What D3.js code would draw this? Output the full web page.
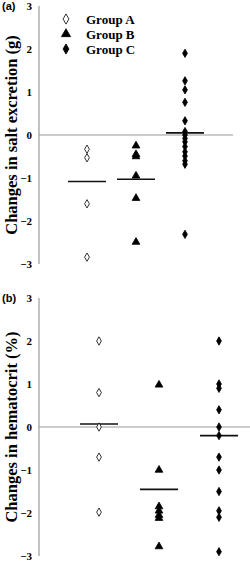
<!DOCTYPE html>
<html>
<head>
<meta charset="utf-8">
<script src="https://cdn.jsdelivr.net/npm/d3@7"></script>
<style>
  body { margin: 0; background: #fff; }
  svg text { font-family: "Liberation Serif", "Times New Roman", serif; font-weight: bold; }
</style>
</head>
<body>
<div id="chart"></div>
<script>
var groups = ['Group A', 'Group B', 'Group C'];
var yTicks = [3, 2, 1, 0, -1, -2, -3];

// panel (a) salt excretion, g
var saltA = [-0.33, -0.53, -1.6, -2.84];
var saltB = [-0.25, -0.45, -0.5, -0.95, -1.47, -2.49];
var saltC = [1.9, 1.26, 1.05, 0.76, 0.33, 0.08, 0, -0.08, -0.16, -0.27, -0.39, -0.49, -0.6, -0.68, -2.31];
var saltMeans = [-1.08, -1.03, 0.05];

// panel (b) hematocrit, %
var hctA = [2.0, 0.8, 0, -0.7, -1.98];
var hctB = [0.98, -1.0, -1.85, -1.95, -2.05, -2.12, -2.78];
var hctC = [2.0, 1.0, 0.9, 0.4, 0, -0.2, -0.7, -1.0, -1.5, -1.95, -2.1, -2.9];
var hctMeans = [0.07, -1.45, -0.2];

var width = 250, height = 562;
var svg = d3.select('#chart').append('svg').attr('width', width).attr('height', height);

var symbolFor = {
  'Group A': { type: d3.symbolDiamond, size: 20, fill: '#fff' },
  'Group B': { type: d3.symbolTriangle, size: 26, fill: '#000' },
  'Group C': { type: d3.symbolDiamond, size: 20, fill: '#000' }
};

function panel(opts) {
  var y = d3.scaleLinear().domain([-3, 3]).range([opts.bottom, opts.top]);
  var x = d3.scalePoint().domain(groups).range(opts.xRange);
  var g = svg.append('g');

  // y axis line
  g.append('line')
    .attr('x1', 39).attr('x2', 39)
    .attr('y1', y(3)).attr('y2', y(-3))
    .attr('stroke', '#9a9a9a').attr('stroke-width', 1.2);
  // zero line
  g.append('line')
    .attr('x1', 39).attr('x2', opts.zeroEnd)
    .attr('y1', y(0)).attr('y2', y(0))
    .attr('stroke', '#9a9a9a').attr('stroke-width', 1.2);

  g.selectAll('.tick').data(yTicks).enter().append('text')
    .attr('x', 32).attr('y', function(d) { return y(d) + 4; })
    .attr('text-anchor', 'end').attr('font-size', 11)
    .text(function(d) { return d < 0 ? '\u2212' + Math.abs(d) : d; });

  g.append('text')
    .attr('transform', 'translate(' + 17 + ',' + y(0) + ') rotate(-90)')
    .attr('text-anchor', 'middle').attr('font-size', 16.5)
    .text(opts.label);

  g.append('text')
    .attr('x', 2).attr('y', y(3) + 4)
    .style('font-family', 'Liberation Sans, Arial, sans-serif')
    .attr('font-size', 11)
    .text(opts.tag);

  // mean lines
  g.selectAll('.mean').data(opts.means).enter().append('line')
    .attr('x1', function(d, i) { return x(groups[i]) - 19; })
    .attr('x2', function(d, i) { return x(groups[i]) + 19; })
    .attr('y1', function(d) { return y(d); })
    .attr('y2', function(d) { return y(d); })
    .attr('stroke', '#111').attr('stroke-width', 1.6);

  opts.series.forEach(function(vals, i) {
    var s = symbolFor[groups[i]];
    g.selectAll('.pt' + i).data(vals).enter().append('path')
      .attr('d', d3.symbol().type(s.type).size(s.size))
      .attr('transform', function(d) { return 'translate(' + x(groups[i]) + ',' + y(d) + ')'; })
      .attr('fill', s.fill).attr('stroke', '#000').attr('stroke-width', 0.8);
  });
}

panel({ top: 6, bottom: 264, xRange: [87, 185], zeroEnd: 233,
  series: [saltA, saltB, saltC], means: saltMeans,
  label: 'Changes in salt excretion (g)', tag: '(a)' });

panel({ top: 298, bottom: 556, xRange: [99, 219], zeroEnd: 250,
  series: [hctA, hctB, hctC], means: hctMeans,
  label: 'Changes in hematocrit (%)', tag: '(b)' });

// legend
var legend = svg.append('g').selectAll('g').data(groups).enter().append('g')
  .attr('transform', function(d, i) { return 'translate(66,' + (19 + i * 15) + ')'; });
legend.append('path')
  .attr('d', function(d) { return d3.symbol().type(symbolFor[d].type).size(symbolFor[d].size + 10)(); })
  .attr('fill', function(d) { return symbolFor[d].fill; })
  .attr('stroke', '#000').attr('stroke-width', 0.8);
legend.append('text')
  .attr('x', 20).attr('y', 4.5).attr('font-size', 13)
  .text(function(d) { return d; });
</script>
</body>
</html>
